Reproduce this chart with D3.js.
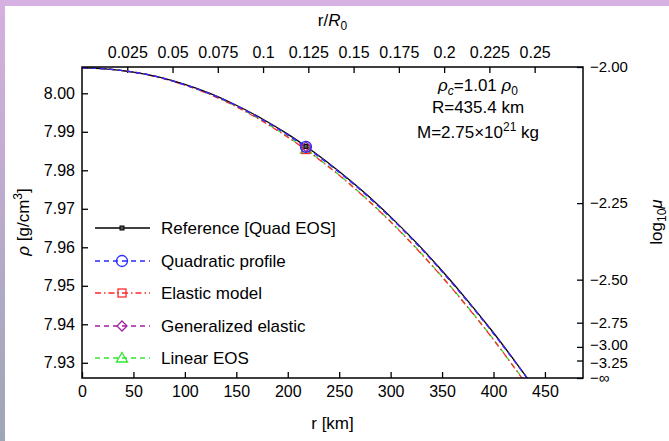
<!DOCTYPE html>
<html>
<head>
<meta charset="utf-8">
<script src="https://cdn.jsdelivr.net/npm/d3@7"></script>
<style>
html,body{margin:0;padding:0;background:#fff;}
svg{display:block;font-family:"Liberation Sans",Arial,sans-serif;}
</style>
</head>
<body>
<svg id="chart" width="669" height="441"></svg>
<script>
// ---- data ----
const rKm = [0, 25, 50, 75, 100, 125, 150, 175, 200, 225, 250, 275, 300, 325, 350, 375, 400, 425, 435.4];
const rhoReference   = [8.0066, 8.0063, 8.0055, 8.0042, 8.0023, 7.9999, 7.9969, 7.9934, 7.9894, 7.9848, 7.9797, 7.9741, 7.9679, 7.9612, 7.9539, 7.9461, 7.9378, 7.9289, 7.9251];
const rhoQuadratic   = [8.0066, 8.0063, 8.0055, 8.0042, 8.0022, 7.9998, 7.9968, 7.9932, 7.9892, 7.9846, 7.9795, 7.9739, 7.9677, 7.9610, 7.9537, 7.9459, 7.9376, 7.9288, 7.9250];
const rhoElastic     = [8.0066, 8.0063, 8.0055, 8.0041, 8.0021, 7.9996, 7.9965, 7.9928, 7.9886, 7.9839, 7.9787, 7.9729, 7.9666, 7.9597, 7.9523, 7.9444, 7.9360, 7.9270, 7.9232];
const rhoGeneralized = [8.0066, 8.0063, 8.0055, 8.0042, 8.0022, 7.9998, 7.9968, 7.9932, 7.9892, 7.9846, 7.9795, 7.9739, 7.9677, 7.9610, 7.9537, 7.9459, 7.9376, 7.9288, 7.9250];
const rhoLinear      = [8.0066, 8.0063, 8.0055, 8.0042, 8.0022, 7.9997, 7.9966, 7.9929, 7.9887, 7.9840, 7.9788, 7.9730, 7.9667, 7.9598, 7.9524, 7.9445, 7.9361, 7.9271, 7.9233];
const markerR = 217.7;
const markerRho = [7.9862, 7.9861, 7.9854, 7.9861, 7.9855];
const seriesNames = ["Reference [Quad EOS]", "Quadratic profile", "Elastic model", "Generalized elastic", "Linear EOS"];
const bottomTicks = [0, 50, 100, 150, 200, 250, 300, 350, 400, 450];
const leftTicks = [7.93, 7.94, 7.95, 7.96, 7.97, 7.98, 7.99, 8.00];
const topTicks = [0.025, 0.05, 0.075, 0.1, 0.125, 0.15, 0.175, 0.2, 0.225, 0.25];
const rightTicks = [-2.00, -2.25, -2.50, -2.75, -3.00, -3.25];
const R0km = 1760;
const xMaxKm = 487;
const yDomain = [7.92605, 8.00683];
const muMax = 0.01;

// ---- styles ----
const colors = ["#000000", "#2a2aff", "#ff2a2a", "#a020a0", "#2ee62e"];
const dashes = [null, "5,4", "6,3,1.5,3", "5,4", "5,4"];
const markerTypes = ["refsq", "circle", "square", "diamond", "triangle"];

const svg = d3.select("#chart");
const W = 669, H = 441;
const L = 82, R = 583, T = 67, B = 378;

// background frame bands
const defs = svg.append("defs");
const grad = defs.append("linearGradient").attr("id","lg").attr("x1",0).attr("y1",0).attr("x2",0).attr("y2",1);
grad.append("stop").attr("offset","0%").attr("stop-color","#d6b0e0");
grad.append("stop").attr("offset","100%").attr("stop-color","#9ea6b6");
svg.append("rect").attr("x",0).attr("y",0).attr("width",W).attr("height",H).attr("fill","#fff");
svg.append("rect").attr("x",0).attr("y",0).attr("width",5).attr("height",H).attr("fill","url(#lg)");
svg.append("rect").attr("x",0).attr("y",0).attr("width",W).attr("height",6).attr("fill","#d6b0e0");

const x = d3.scaleLinear().domain([0, xMaxKm]).range([L, R]);
const xTop = d3.scaleLinear().domain([0, xMaxKm / R0km]).range([L, R]);
const y = d3.scaleLinear().domain(yDomain).range([B, T]);
const yRight = d3.scaleLinear().domain([0, muMax]).range([B, T]);

defs.append("clipPath").attr("id","clip").append("rect").attr("x",L).attr("y",T).attr("width",R-L).attr("height",B-T);

function styleAxis(size){
  return g => {
    g.select(".domain").remove();
    g.selectAll("text").attr("font-size", size).attr("font-family","Liberation Sans, Arial, sans-serif").attr("fill","#000");
    g.selectAll("line").attr("stroke","#000").attr("stroke-width",1.3);
  };
}

svg.append("g").attr("transform",`translate(0,${B})`)
  .call(d3.axisBottom(x).tickValues(bottomTicks).tickSize(-6).tickPadding(8).tickFormat(d3.format("d")))
  .call(styleAxis("16px"));
svg.append("g").attr("transform",`translate(${L},0)`)
  .call(d3.axisLeft(y).tickValues(leftTicks).tickSize(-6).tickPadding(7).tickFormat(d3.format(".2f")))
  .call(styleAxis("16px"));
svg.append("g").attr("transform",`translate(0,${T})`)
  .call(d3.axisTop(xTop).tickValues(topTicks).tickSize(-6).tickPadding(9).tickFormat(d => String(+d.toFixed(3))))
  .call(styleAxis("16px"));
const rightVals = rightTicks.map(v => Math.pow(10, v)).concat([0]);
const rAxis = svg.append("g").attr("transform",`translate(${R},0)`)
  .call(d3.axisRight(yRight).tickValues(rightVals).tickSize(-6).tickPadding(7)
    .tickFormat(d => d === 0 ? "\u2212\u221E" : "\u2212" + (-Math.log10(d)).toFixed(2)))
  .call(styleAxis("15px"));
// nudge the two crowded labels apart slightly (as in the reference)
rAxis.selectAll(".tick text").attr("y", d => Math.abs(d - 1e-3) < 1e-9 ? -1.8 : (Math.abs(d - Math.pow(10,-3.25)) < 1e-9 ? 1.8 : 0));

// curves
const seriesData = [rhoReference, rhoQuadratic, rhoElastic, rhoGeneralized, rhoLinear];
const line = d3.line().x((d,i) => x(rKm[i])).y(d => y(d)).curve(d3.curveMonotoneX);
const plot = svg.append("g").attr("clip-path","url(#clip)");
const drawOrder = [4, 2, 0, 3, 1];
drawOrder.forEach(k => {
  plot.append("path").datum(seriesData[k]).attr("d", line)
    .attr("fill","none").attr("stroke",colors[k]).attr("stroke-width",1.3)
    .attr("stroke-dasharray",dashes[k]);
});

function drawMarker(g, type, cx, cy, color){
  if (type === "refsq") {
    g.append("rect").attr("x",cx-2).attr("y",cy-2).attr("width",4).attr("height",4)
      .attr("fill","#555").attr("stroke",color).attr("stroke-width",1);
  } else if (type === "circle") {
    g.append("circle").attr("cx",cx).attr("cy",cy).attr("r",5.5).attr("fill","none").attr("stroke",color).attr("stroke-width",1.3);
  } else if (type === "square") {
    g.append("rect").attr("x",cx-4).attr("y",cy-4).attr("width",8).attr("height",8).attr("fill","none").attr("stroke",color).attr("stroke-width",1.3);
  } else if (type === "diamond") {
    g.append("path").attr("d",`M${cx},${cy-5}L${cx+5},${cy}L${cx},${cy+5}L${cx-5},${cy}Z`).attr("fill","none").attr("stroke",color).attr("stroke-width",1.3);
  } else if (type === "triangle") {
    g.append("path").attr("d",`M${cx},${cy-5.5}L${cx+5.5},${cy+4}L${cx-5.5},${cy+4}Z`).attr("fill","none").attr("stroke",color).attr("stroke-width",1.3);
  }
}
const mg = svg.append("g");
drawOrder.forEach(k => drawMarker(mg, markerTypes[k], x(markerR), y(markerRho[k]), colors[k]));

// frame
svg.append("rect").attr("x",L).attr("y",T).attr("width",R-L).attr("height",B-T)
  .attr("fill","none").attr("stroke","#000").attr("stroke-width",1.5);

// legend
const legY = [228, 261, 293, 326, 358];
const lg = svg.append("g");
seriesNames.forEach((name, k) => {
  lg.append("line").attr("x1",95).attr("x2",150).attr("y1",legY[k]).attr("y2",legY[k])
    .attr("stroke",colors[k]).attr("stroke-width",1.3).attr("stroke-dasharray",dashes[k]);
  drawMarker(lg, markerTypes[k], 122, legY[k], colors[k]);
  lg.append("text").attr("x",161).attr("y",legY[k]).attr("dy","0.35em")
    .attr("font-size","17px").text(name);
});

// annotation
const ann = svg.append("g").attr("font-size","17px").attr("text-anchor","middle");
const t1 = ann.append("text").attr("x",478).attr("y",91);
t1.append("tspan").attr("font-style","italic").text("\u03C1");
t1.append("tspan").attr("font-style","italic").attr("font-size","12px").attr("dy",4).text("c");
t1.append("tspan").attr("dy",-4).text("=1.01 ");
t1.append("tspan").attr("font-style","italic").text("\u03C1");
t1.append("tspan").attr("font-size","12px").attr("dy",4).text("0");
ann.append("text").attr("x",478).attr("y",113).text("R=435.4 km");
const t3 = ann.append("text").attr("x",478).attr("y",138);
t3.append("tspan").text("M=2.75\u00D710");
t3.append("tspan").attr("font-size","12px").attr("dy",-7).text("21");
t3.append("tspan").attr("dy",7).text(" kg");

// axis titles
svg.append("text").attr("x",(L+R)/2).attr("y",429).attr("text-anchor","middle").attr("font-size","17px").text("r [km]");
const tt = svg.append("text").attr("x",(L+R)/2).attr("y",26).attr("text-anchor","middle").attr("font-size","17px");
tt.append("tspan").text("r/");
tt.append("tspan").attr("font-style","italic").text("R");
tt.append("tspan").attr("font-size","12px").attr("dy",4).text("0");
const lt = svg.append("text").attr("transform","translate(29,222) rotate(-90)").attr("text-anchor","middle").attr("font-size","17px");
lt.append("tspan").attr("font-style","italic").text("\u03C1");
lt.append("tspan").text(" [g/cm");
lt.append("tspan").attr("font-size","12px").attr("dy",-7).text("3");
lt.append("tspan").attr("dy",7).text("]");
const rt = svg.append("text").attr("transform","translate(662,222) rotate(-90)").attr("text-anchor","middle").attr("font-size","17px");
rt.append("tspan").text("log");
rt.append("tspan").attr("font-size","12px").attr("dy",4).text("10");
rt.append("tspan").attr("font-style","italic").attr("dy",-4).text("\u03BC");
</script>
</body>
</html>
